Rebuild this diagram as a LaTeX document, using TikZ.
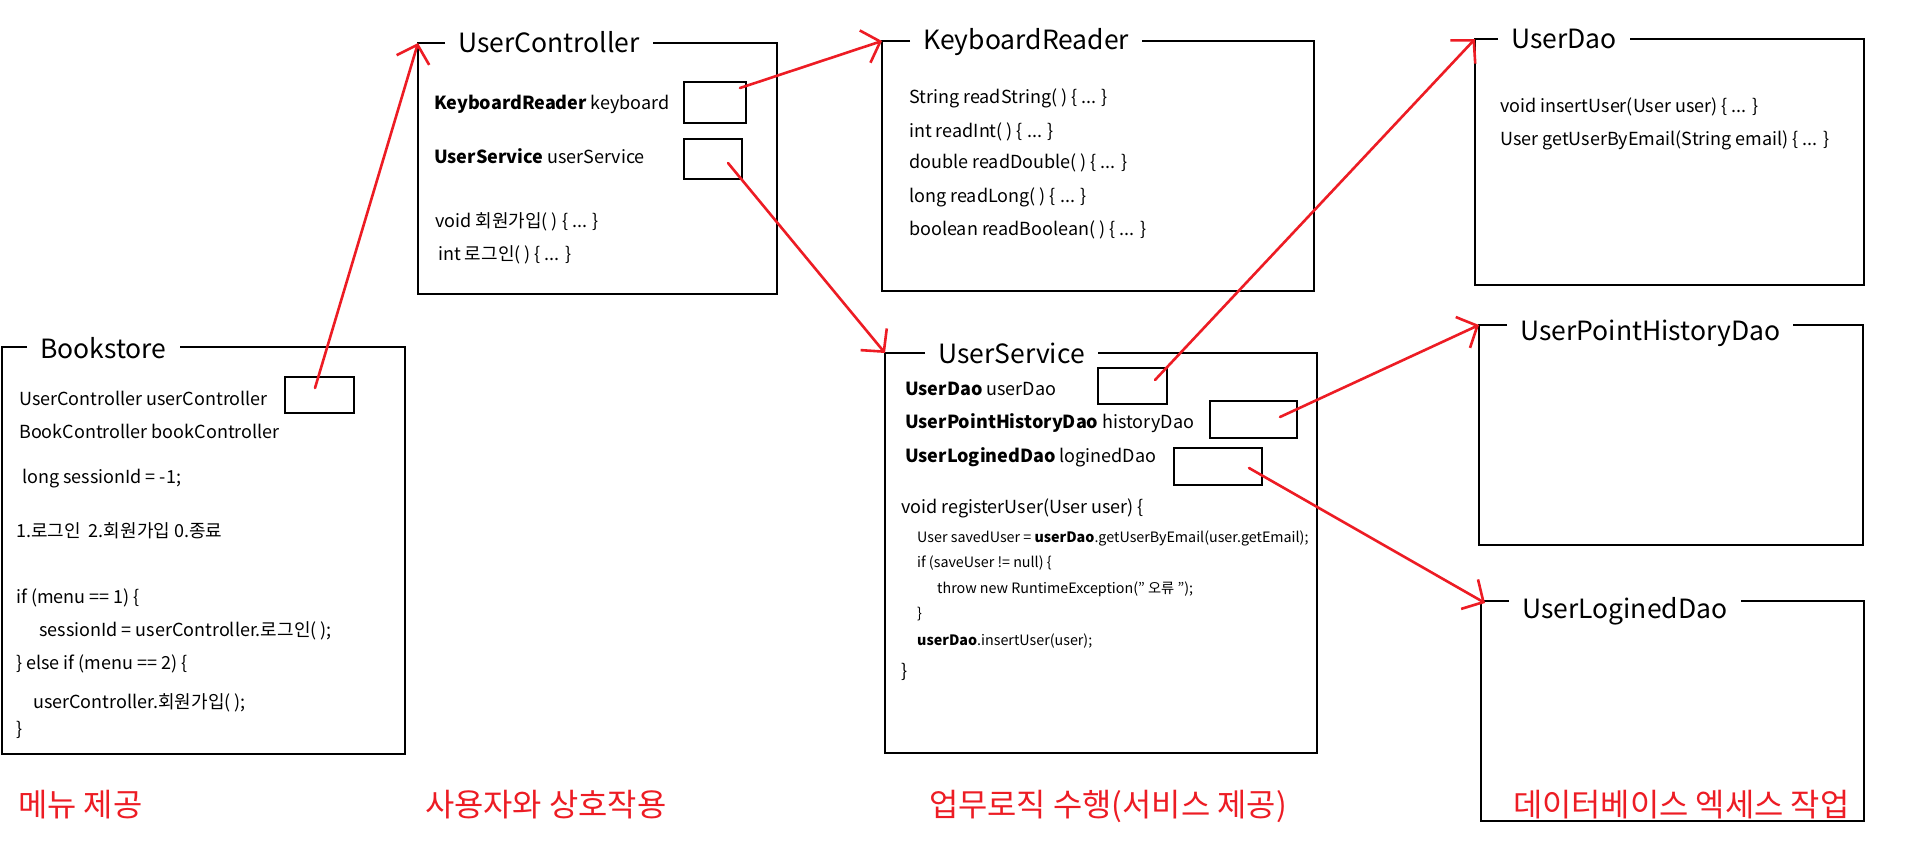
\documentclass[tikz,border=0pt]{standalone}
\usepackage{fontspec}
\setmainfont{Noto Sans CJK KR}
\usetikzlibrary{arrows.meta}
\definecolor{myred}{RGB}{237,28,36}
\tikzset{
  boxarea/.style={draw=none, inner sep=0pt, outer sep=0pt, anchor=north west},
  frameline/.style={draw=black, line width=1.2pt},
  titletext/.style={anchor=base west, inner xsep=13pt, inner ysep=0pt, font=\fontsize{26.5}{30}\selectfont},
  slot/.style={draw=black, line width=1.2pt, inner sep=0pt, outer sep=0pt, anchor=north west},
  code/.style={anchor=base west, inner sep=0pt, font=\fontsize{18}{21}\selectfont},
  smallcode/.style={anchor=base west, inner sep=0pt, font=\fontsize{14.3}{16}\selectfont},
  layer/.style={anchor=base west, inner sep=0pt, text=myred, font=\fontsize{31.8}{36}\selectfont},
  ref/.style={draw=myred, line width=2.6pt, line cap=round, -{Straight Barb[length=16pt,width=34pt]}},
}
% name, x, y, width, height, gap offset, baseline offset, title
\newcommand{\umlbox}[8]{%
  \node[boxarea, minimum width=#4pt, minimum height=#5pt] (#1) at (#2,#3) {};
  \node[titletext] (#1-title) at ({#2+#6},{#3+#7}) {#8};
  \draw[frameline] (#1-title.west |- #1.north) -- (#1.north west) -- (#1.south west)
     -- (#1.south east) -- (#1.north east) -- (#1-title.east |- #1.north);
}
\begin{document}
\begin{tikzpicture}[x=1pt,y=-1pt]
\useasboundingbox (0,0) rectangle (1912,867);
\fill[white] (0,0) rectangle (1912,867);

% ---------- Bookstore ----------
\umlbox{bs}{2}{347}{403}{407}{25}{11}{Bookstore}
\node[slot, minimum width=69pt, minimum height=36pt] (bsref) at (285,377) {};
\node[code] (bs1) at (19,405) {UserController userController};
\node[code] (bs2) at (19,438) {BookController bookController};
\node[code] (bs3) at (22,483) {long sessionId = -1;};
\node[code] (bs4) at (16,537) {1.로그인\ \ 2.회원가입 0.종료};
\node[code] (bs5) at (16,603) {if (menu == 1) \{};
\node[code] (bs6) at (39,636) {sessionId = userController.로그인( );};
\node[code] (bs7) at (16,669) {\} else if (menu == 2) \{};
\node[code] (bs8) at (33,708) {userController.회원가입( );};
\node[code] (bs9) at (16,735) {\}};

% ---------- UserController ----------
\umlbox{uc}{418}{43}{359}{251}{27}{10}{UserController}
\node[slot, minimum width=62pt, minimum height=41pt] (ucref1) at (684,82) {};
\node[slot, minimum width=58pt, minimum height=40pt] (ucref2) at (684,139) {};
\node[code] (uc1) at (434,110) {\textbf{KeyboardReader} keyboard};
\node[code] (uc2) at (434,163) {\textbf{UserService} userService};
\node[code] (uc3) at (435,227) {void 회원가입( ) \{ ... \}};
\node[code] (uc4) at (438,260) {int 로그인( ) \{ ... \}};

% ---------- KeyboardReader ----------
\umlbox{kr}{882}{41}{432}{250}{28}{9}{KeyboardReader}
\node[code] (kr1) at (909,103) {String readString( ) \{ ... \}};
\node[code] (kr2) at (909,137) {int readInt( ) \{ ... \}};
\node[code] (kr3) at (909,168) {double readDouble( ) \{ ... \}};
\node[code] (kr4) at (909,202) {long readLong( ) \{ ... \}};
\node[code] (kr5) at (909,235) {boolean readBoolean( ) \{ ... \}};

% ---------- UserService ----------
\umlbox{us}{885}{353}{432}{400}{40}{10}{UserService}
\node[slot, minimum width=69pt, minimum height=36pt] (usref1) at (1098,368) {};
\node[slot, minimum width=87pt, minimum height=37pt] (usref2) at (1210,401) {};
\node[slot, minimum width=88pt, minimum height=37pt] (usref3) at (1174,448) {};
\node[code] (us1) at (905,395) {\textbf{UserDao} userDao};
\node[code] (us2) at (905,428) {\textbf{UserPointHistoryDao} historyDao};
\node[code] (us3) at (905,462) {\textbf{UserLoginedDao} loginedDao};
\node[code] (us4) at (901,513) {void registerUser(User user) \{};
\node[smallcode] (us5) at (917,542) {User savedUser = \textbf{userDao}.getUserByEmail(user.getEmail);};
\node[smallcode] (us6) at (917,567) {if (saveUser != null) \{};
\node[smallcode] (us7) at (937,593) {throw new RuntimeException(" 오류 ");};
\node[smallcode] (us8) at (917,618) {\}};
\node[smallcode] (us9) at (917,645) {\textbf{userDao}.insertUser(user);};
\node[code] (us10) at (901,677) {\}};

% ---------- DAOs ----------
\umlbox{ud}{1475}{39}{389}{246}{23}{10}{UserDao}
\node[code] (ud1) at (1500,112) {void insertUser(User user) \{ ... \}};
\node[code] (ud2) at (1500,145) {User getUserByEmail(String email) \{ ... \}};

\umlbox{uph}{1479}{325}{384}{220}{28}{15}{UserPointHistoryDao}
\umlbox{uld}{1481}{601}{383}{220}{28}{17}{UserLoginedDao}

% ---------- layer labels ----------
\node[layer] (l1) at (18,816) {메뉴 제공};
\node[layer] (l2) at (425,816) {사용자와 상호작용};
\node[layer] (l3) at (929,816) {업무로직 수행(서비스 제공)};
\node[layer] (l4) at (1513,816) {데이터베이스 엑세스 작업};

% ---------- references ----------
\coordinate (s1) at (315,388);
\coordinate (s2) at (740,88);
\coordinate (s3) at (728,163);
\coordinate (s4) at (1155,380);
\coordinate (s5) at (1280,417);
\coordinate (s6) at (1249,468);
\draw[ref] (s1) -- (uc.north west);
\draw[ref] (s2) -- (kr.north west);
\draw[ref] (s3) -- (us.north west);
\draw[ref] (s4) -- (ud.north west);
\draw[ref] (s5) -- (uph.north west);
\draw[ref] (s6) -- ([xshift=4pt,yshift=-2pt]uld.north west);
\end{tikzpicture}
\end{document}
